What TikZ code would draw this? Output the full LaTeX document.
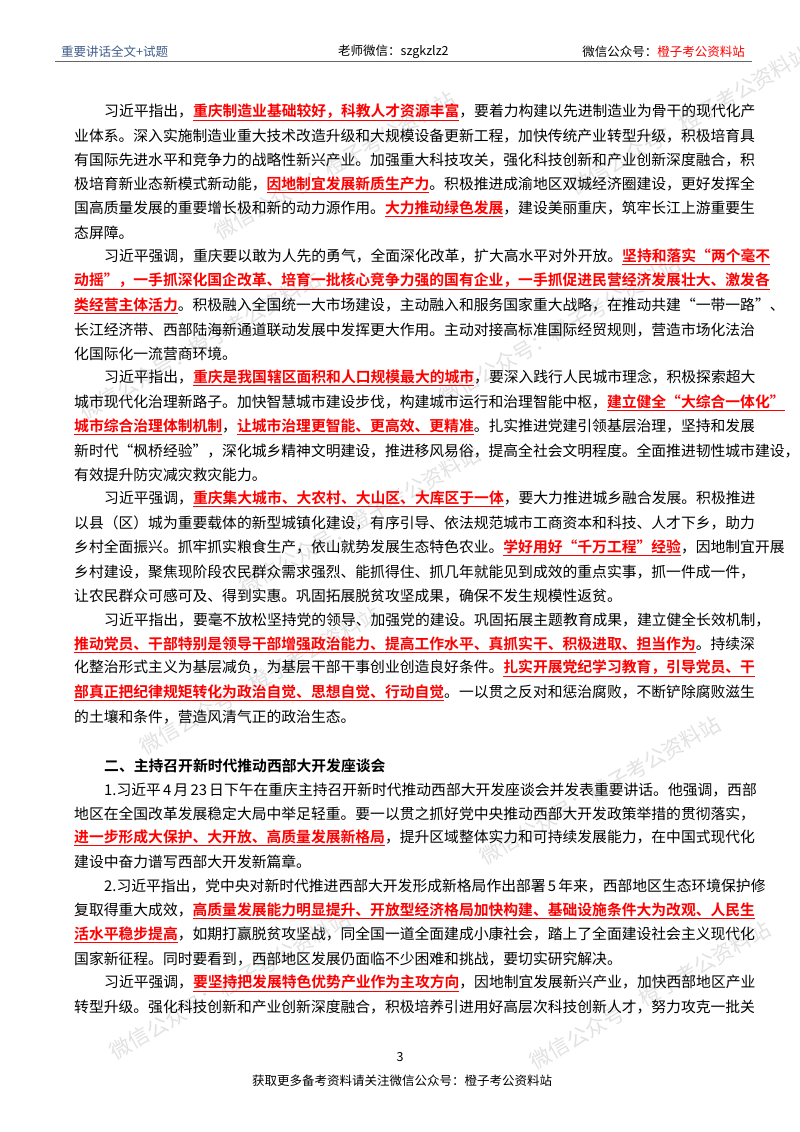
\documentclass[tikz,border=0pt]{standalone}
\usepackage{fontspec}
\setmainfont{Noto Sans CJK SC}[BoldFont={Noto Sans CJK SC Bold}]
\XeTeXlinebreaklocale "zh"
\XeTeXlinebreakskip=0pt plus 4pt minus 0.6pt
\definecolor{hdblue}{HTML}{3E5C8A}
\definecolor{wm}{HTML}{E2E2E2}
\newcommand\hl[1]{\textcolor{red}{\bfseries\underline{#1}}}
\tikzset{txt/.style={anchor=west,inner sep=0pt,font=\fontsize{14.8}{16}\selectfont},
  wmark/.style={text=wm,rotate=30,font=\fontsize{21}{22}\selectfont,inner sep=0pt},
  hdr/.style={inner sep=0pt,font=\fontsize{12.5}{14}\selectfont}}
\newcommand\Ln[2]{\node[txt] at (74,{112+24.2*#1}) {\makebox[660pt][s]{#2}};}
\newcommand\Li[2]{\node[txt] at (104,{112+24.2*#1}) {\makebox[630pt][s]{#2}};}
\newcommand\Ll[2]{\node[txt] at (74,{112+24.2*#1}) {#2};}
\begin{document}
\begin{tikzpicture}[x=1pt,y=-1pt]
\useasboundingbox[fill=white] (0,0) rectangle (800,1132);
% watermarks
\node[wmark] (w1) at (335,165) {微信公众号：橙子考公资料站};
\node[wmark] (w2) at (690,120) {微信公众号：橙子考公资料站};
\node[wmark] (w3) at (200,345) {微信公众号：橙子考公资料站};
\node[wmark] (w4) at (560,330) {微信公众号：橙子考公资料站};
\node[wmark] (w5) at (360,520) {微信公众号：橙子考公资料站};
\node[wmark] (w6) at (260,680) {微信公众号：橙子考公资料站};
\node[wmark] (w7) at (600,790) {微信公众号：橙子考公资料站};
\node[wmark] (w8) at (230,985) {微信公众号：橙子考公资料站};
\node[wmark] (w9) at (650,995) {微信公众号：橙子考公资料站};
% header
\node[hdr,anchor=west,text=hdblue] (h1) at (61,52) {重要讲话全文+试题};
\node[hdr,anchor=west] (h2) at (338,52) {老师微信：szgkzlz2};
\node[hdr,anchor=east] (h3) at (745,52) {微信公众号：\textcolor{red}{橙子考公资料站}};
\coordinate (r1) at (55,62); \coordinate (r2) at (752,62);
\draw[gray!80!black,line width=1pt] (r1) -- (r2);
% body
\Li{0}{习近平指出，\hl{重庆制造业基础较好，科教人才资源丰富}，要着力构建以先进制造业为骨干的现代化产}
\Ln{1}{业体系。深入实施制造业重大技术改造升级和大规模设备更新工程，加快传统产业转型升级，积极培育具}
\Ln{2}{有国际先进水平和竞争力的战略性新兴产业。加强重大科技攻关，强化科技创新和产业创新深度融合，积}
\Ln{3}{极培育新业态新模式新动能，\hl{因地制宜发展新质生产力}。积极推进成渝地区双城经济圈建设，更好发挥全}
\Ln{4}{国高质量发展的重要增长极和新的动力源作用。\hl{大力推动绿色发展}，建设美丽重庆，筑牢长江上游重要生}
\Ll{5}{态屏障。}
\Li{6}{习近平强调，重庆要以敢为人先的勇气，全面深化改革，扩大高水平对外开放。\hl{坚持和落实“两个毫不}}
\Ln{7}{\hl{动摇”，一手抓深化国企改革、培育一批核心竞争力强的国有企业，一手抓促进民营经济发展壮大、激发各}}
\Ln{8}{\hl{类经营主体活力}。积极融入全国统一大市场建设，主动融入和服务国家重大战略，在推动共建“一带一路”、}
\Ln{9}{长江经济带、西部陆海新通道联动发展中发挥更大作用。主动对接高标准国际经贸规则，营造市场化法治}
\Ll{10}{化国际化一流营商环境。}
\Li{11}{习近平指出，\hl{重庆是我国辖区面积和人口规模最大的城市}，要深入践行人民城市理念，积极探索超大}
\Ln{12}{城市现代化治理新路子。加快智慧城市建设步伐，构建城市运行和治理智能中枢，\hl{建立健全“大综合一体化”}}
\Ln{13}{\hl{城市综合治理体制机制}，\hl{让城市治理更智能、更高效、更精准}。扎实推进党建引领基层治理，坚持和发展}
\Ln{14}{新时代“枫桥经验”，深化城乡精神文明建设，推进移风易俗，提高全社会文明程度。全面推进韧性城市建设，}
\Ll{15}{有效提升防灾减灾救灾能力。}
\Li{16}{习近平强调，\hl{重庆集大城市、大农村、大山区、大库区于一体}，要大力推进城乡融合发展。积极推进}
\Ln{17}{以县（区）城为重要载体的新型城镇化建设，有序引导、依法规范城市工商资本和科技、人才下乡，助力}
\Ln{18}{乡村全面振兴。抓牢抓实粮食生产，依山就势发展生态特色农业。\hl{学好用好“千万工程”经验}，因地制宜开展}
\Ln{19}{乡村建设，聚焦现阶段农民群众需求强烈、能抓得住、抓几年就能见到成效的重点实事，抓一件成一件，}
\Ll{20}{让农民群众可感可及、得到实惠。巩固拓展脱贫攻坚成果，确保不发生规模性返贫。}
\Li{21}{习近平指出，要毫不放松坚持党的领导、加强党的建设。巩固拓展主题教育成果，建立健全长效机制，}
\Ln{22}{\hl{推动党员、干部特别是领导干部增强政治能力、提高工作水平、真抓实干、积极进取、担当作为}。持续深}
\Ln{23}{化整治形式主义为基层减负，为基层干部干事创业创造良好条件。\hl{扎实开展党纪学习教育，引导党员、干}}
\Ln{24}{\hl{部真正把纪律规矩转化为政治自觉、思想自觉、行动自觉}。一以贯之反对和惩治腐败，不断铲除腐败滋生}
\Ll{25}{的土壤和条件，营造风清气正的政治生态。}
\node[txt,font=\fontsize{14.8}{16}\selectfont\bfseries] (hd) at (104,{112+24.2*27}) {二、主持召开新时代推动西部大开发座谈会};
\Li{28}{1.习近平 4 月 23 日下午在重庆主持召开新时代推动西部大开发座谈会并发表重要讲话。他强调，西部}
\Ln{29}{地区在全国改革发展稳定大局中举足轻重。要一以贯之抓好党中央推动西部大开发政策举措的贯彻落实，}
\Ln{30}{\hl{进一步形成大保护、大开放、高质量发展新格局}，提升区域整体实力和可持续发展能力，在中国式现代化}
\Ll{31}{建设中奋力谱写西部大开发新篇章。}
\Li{32}{2.习近平指出，党中央对新时代推进西部大开发形成新格局作出部署 5 年来，西部地区生态环境保护修}
\Ln{33}{复取得重大成效，\hl{高质量发展能力明显提升、开放型经济格局加快构建、基础设施条件大为改观、人民生}}
\Ln{34}{\hl{活水平稳步提高}，如期打赢脱贫攻坚战，同全国一道全面建成小康社会，踏上了全面建设社会主义现代化}
\Ll{35}{国家新征程。同时要看到，西部地区发展仍面临不少困难和挑战，要切实研究解决。}
\Li{36}{习近平强调，\hl{要坚持把发展特色优势产业作为主攻方向}，因地制宜发展新兴产业，加快西部地区产业}
\Ln{37}{转型升级。强化科技创新和产业创新深度融合，积极培养引进用好高层次科技创新人才，努力攻克一批关}
% footer
\node[hdr] (pg) at (400,1057) {3};
\node[hdr] (ft) at (402,1081) {获取更多备考资料请关注微信公众号：橙子考公资料站};
\end{tikzpicture}
\end{document}
